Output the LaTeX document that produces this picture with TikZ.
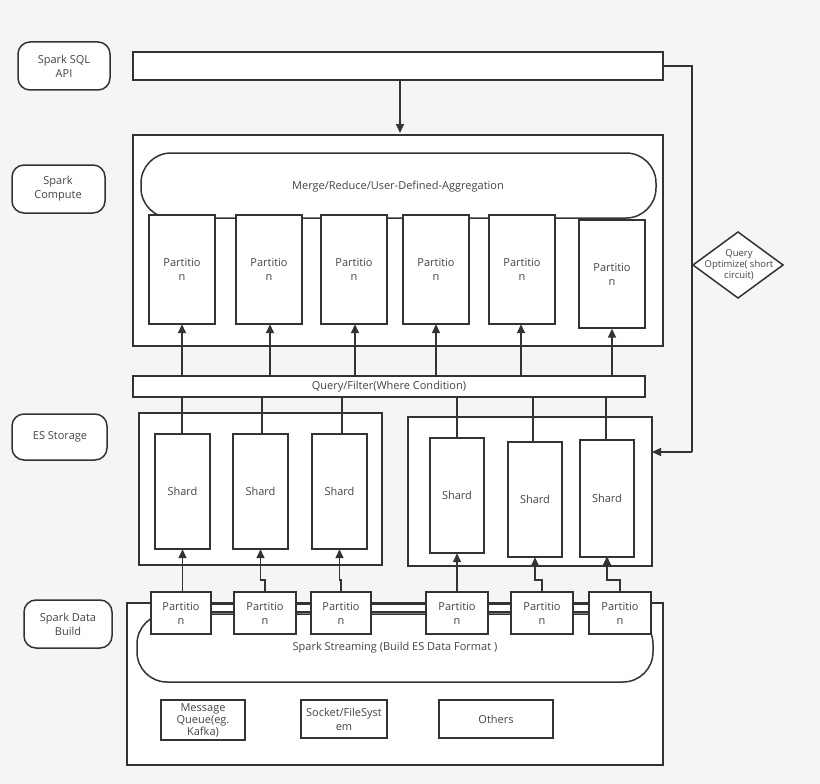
\documentclass[tikz,border=0pt]{standalone}
\usepackage{fontspec}
\setmainfont{Open Sans}
\usetikzlibrary{shapes.geometric,arrows.meta}
\definecolor{bg}{HTML}{F5F5F5}
\definecolor{ln}{HTML}{333333}
\definecolor{tx}{HTML}{444444}
\begin{document}
\begin{tikzpicture}[x=1pt,y=-1pt,
  box/.style={draw=ln,line width=1.5pt,fill=white},
  lab/.style={draw=ln,line width=1.5pt,fill=white,rounded corners=12pt},
  txt/.style={font=\fontsize{11}{14}\selectfont,text=tx,align=center},
  ar/.style={draw=ln,line width=1.5pt,-{Triangle[length=9pt,width=8pt]}},
  pl/.style={draw=ln,line width=1.5pt}]
\fill[bg] (0,0) rectangle (820,784);
\useasboundingbox (0,0) rectangle (820,784);
% left labels
\draw[lab] (18,42) rectangle (110,90); \node[txt] (l1) at (64,66) {Spark SQL\\API};
\draw[lab] (12,165) rectangle (105,213); \node[txt] (l2) at (58,189) {Spark\\Compute};
\draw[lab] (12,414) rectangle (107,460); \node[txt] (l3) at (60,437) {ES Storage};
\draw[lab] (24,600) rectangle (112,648); \node[txt] (l4) at (68,624) {Spark Data\\Build};
% top bar
\draw[box] (133,52) rectangle (663,80);
\coordinate (tb) at (400,80);
\coordinate (cb) at (400,133);
\draw[ar] (tb) -- (cb);
% compute box
\draw[box] (133,135) rectangle (663,346);
\draw[box,rounded corners=30pt] (141,153) rectangle (656,218);
\node[txt] (merge) at (398,187) {Merge/Reduce/User-Defined-Aggregation};
\foreach \n/\a/\b/\t/\bt in {1/149/215/215/324,2/236/302/215/324,3/321/387/215/324,4/403/469/215/324,5/489/555/215/324,6/579/645/220/328}{
  \draw[box] (\a,\t) rectangle (\b,\bt);
  \node[txt,minimum width=66pt,minimum height=109pt] (p\n) at ({(\a+\b)/2},{(\t+\bt)/2}) {Partitio\\n};
}
% query bar
\draw[box] (133,376) rectangle (645,397);
\node[txt,minimum width=512pt,minimum height=21pt,inner sep=0] (q) at (389,386.5) {Query/Filter(Where Condition)};
\foreach \n/\x in {1/182,2/270,3/355,4/436,5/521,6/612}{
  \draw[ar] (\x,376) -- (p\n.south -| \x,0);
}
% ES boxes
\draw[box] (139,413) rectangle (382,565);
\draw[box] (408,417) rectangle (652,566);
\foreach \n/\a/\b/\t/\bt in {1/155/210/434/549,2/233/288/434/549,3/312/367/434/549,4/430/484/438/553,5/508/562/442/557,6/580/634/440/557}{
  \draw[box] (\a,\t) rectangle (\b,\bt);
  \node[txt,minimum width=55pt,minimum height=115pt] (s\n) at ({(\a+\b)/2},{(\t+\bt)/2}) {Shard};
}
\foreach \n/\x in {1/182,2/262,3/342,4/457,5/533,6/606}{
  \draw[pl] (\x,397) -- (s\n.north -| \x,0);
}
% right connector
\coordinate (c1) at (692,66);
\coordinate (c2) at (692,452);
\draw[pl] (663,66) -- (c1) -- (c2);
\draw[ar] (c2) -- (652,452);
\draw[pl,fill=white] (693,265) -- (738,232) -- (783,265) -- (738,298) -- cycle;
\node[txt,font=\fontsize{9.5}{11}\selectfont] (qo) at (739,265) {Query\\Optimize( short\\circuit)};
% bottom box
\draw[box] (127,603) rectangle (663,765);
\draw[box,rounded corners=30pt] (137,614) rectangle (653,682);
\draw[box,line width=1.2pt] (151,604) rectangle (651,612);
\node[txt] (ss) at (395,648) {Spark Streaming (Build ES Data Format )};
\foreach \n/\a/\b in {1/151/211,2/234/296,3/311/371,4/426/488,5/511/573,6/589/651}{
  \draw[box] (\a,592) rectangle (\b,634);
  \node[txt,minimum width=60pt,minimum height=42pt] (b\n) at ({(\a+\b)/2},613) {Partitio\\n};
}
\draw[ar] (b1.north -| s1.south) -- (s1.south);
\draw[ar] (b4.north) -- (b4.north |- s4.south);
\foreach \n in {2,3,5,6}{
  \draw[ar] (b\n.north) -- ++(0,-12) -| (s\n.south);
}
\draw[box] (161,700) rectangle (245,740); \node[txt,font=\fontsize{11}{12}\selectfont] (m1) at (203,720) {Message\\Queue(eg.\\Kafka)};
\draw[box] (301,700) rectangle (387,738); \node[txt] (m2) at (344,719) {Socket/FileSyst\\em};
\draw[box] (439,700) rectangle (553,738); \node[txt] (m3) at (496,719) {Others};
\end{tikzpicture}
\end{document}
